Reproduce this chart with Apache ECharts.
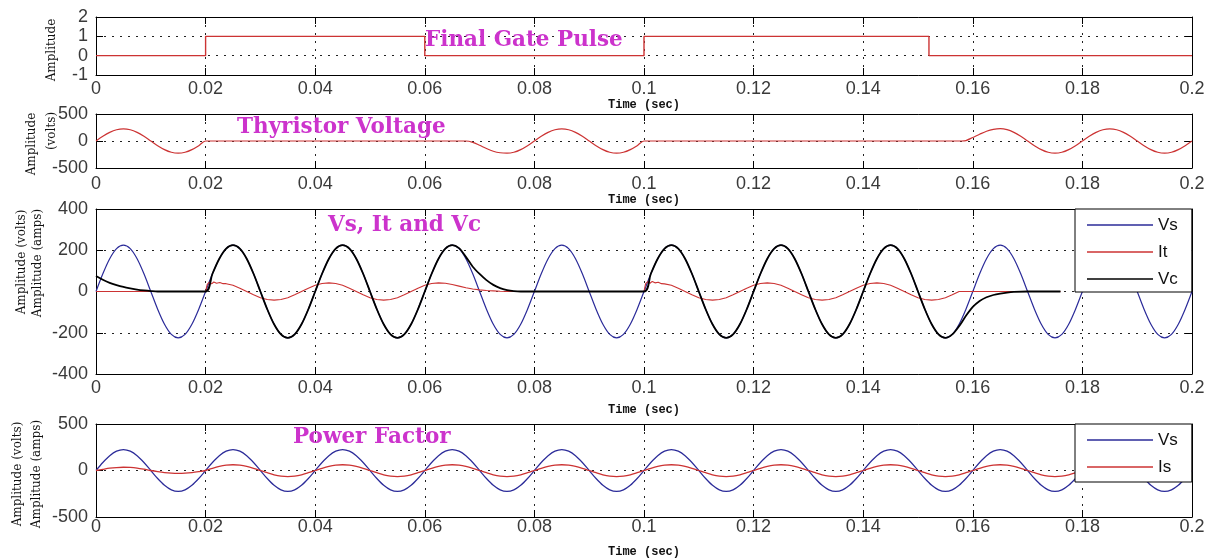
<!DOCTYPE html>
<html>
<head>
<meta charset="utf-8">
<title>Thyristor waveforms</title>
<script src="https://cdn.jsdelivr.net/npm/echarts@6.0.0/dist/echarts.min.js"></script>
<style>
html,body{margin:0;padding:0;background:#fff;}
#chart{width:1208px;height:559px;}
</style>
</head>
<body>
<div id="chart"></div>
<script>
// time in ms on the x axis, tick labels shown in seconds
var xTicks = ['0','0.02','0.04','0.06','0.08','0.1','0.12','0.14','0.16','0.18','0.2'];

// sample times for the full-length waveforms (ms)
var tFull = [
  0,1.25,2.5,3.75,5,6.25,7.5,8.75,10,11.25,12.5,13.75,15,16.25,17.5,18.75,
  20,21.25,22.5,23.75,25,26.25,27.5,28.75,30,31.25,32.5,33.75,35,36.25,37.5,38.75,
  40,41.25,42.5,43.75,45,46.25,47.5,48.75,50,51.25,52.5,53.75,55,56.25,57.5,58.75,
  60,61.25,62.5,63.75,65,66.25,67.5,68.75,70,71.25,72.5,73.75,75,76.25,77.5,78.75,
  80,81.25,82.5,83.75,85,86.25,87.5,88.75,90,91.25,92.5,93.75,95,96.25,97.5,98.75,
  100,101.25,102.5,103.75,105,106.25,107.5,108.75,110,111.25,112.5,113.75,115,116.25,117.5,118.75,
  120,121.25,122.5,123.75,125,126.25,127.5,128.75,130,131.25,132.5,133.75,135,136.25,137.5,138.75,
  140,141.25,142.5,143.75,145,146.25,147.5,148.75,150,151.25,152.5,153.75,155,156.25,157.5,158.75,
  160,161.25,162.5,163.75,165,166.25,167.5,168.75,170,171.25,172.5,173.75,175,176.25,177.5,178.75,
  180,181.25,182.5,183.75,185,186.25,187.5,188.75,190,191.25,192.5,193.75,195,196.25,197.5,198.75,
  200
];

// supply voltage Vs (volts)
var vsVals = [
  0,86,159,208,225,208,159,86,0,-86,-159,-208,-225,-208,-159,-86,
  0,86,159,208,225,208,159,86,0,-86,-159,-208,-225,-208,-159,-86,
  0,86,159,208,225,208,159,86,0,-86,-159,-208,-225,-208,-159,-86,
  0,86,159,208,225,208,159,86,0,-86,-159,-208,-225,-208,-159,-86,
  0,86,159,208,225,208,159,86,0,-86,-159,-208,-225,-208,-159,-86,
  0,86,159,208,225,208,159,86,0,-86,-159,-208,-225,-208,-159,-86,
  0,86,159,208,225,208,159,86,0,-86,-159,-208,-225,-208,-159,-86,
  0,86,159,208,225,208,159,86,0,-86,-159,-208,-225,-208,-159,-86,
  0,86,159,208,225,208,159,86,0,-86,-159,-208,-225,-208,-159,-86,
  0,86,159,208,225,208,159,86,0,-86,-159,-208,-225,-208,-159,-86,
  0
];

// source current Is (amps)
var isVals = [
  0,13,25,32,35,33,26,14,0,-12,-22,-28,-30,-28,-22,-12,
  0,24,44,57,62,57,44,24,0,-24,-46,-60,-65,-60,-46,-24,
  0,24,44,57,62,57,44,24,0,-24,-46,-60,-65,-60,-46,-24,
  0,24,44,57,62,57,44,24,0,-24,-46,-60,-65,-60,-46,-24,
  0,24,44,57,62,57,44,24,0,-24,-46,-60,-65,-60,-46,-24,
  0,24,44,57,62,57,44,24,0,-24,-46,-60,-65,-60,-46,-24,
  0,24,44,57,62,57,44,24,0,-24,-46,-60,-65,-60,-46,-24,
  0,24,44,57,62,57,44,24,0,-24,-46,-60,-65,-60,-46,-24,
  0,24,44,57,62,57,44,24,0,-24,-46,-60,-65,-60,-46,-24,
  0,24,44,57,62,57,44,24,0,-24,-46,-60,-65,-60,-46,-24,
  0
];

// final gate pulse [ms, amplitude]
var gate = [[0,0],[20,0],[20,1],[60,1],[60,0],[100,0],[100,1],[152,1],[152,0],[200,0]];

// thyristor voltage [ms, volts]
var vThy = [
  [0,0],[1.25,86],[2.5,159],[3.75,208],[5,225],[6.25,208],[7.5,159],[8.75,86],[10,0],
  [11.25,-86],[12.5,-159],[13.75,-208],[15,-225],[16.25,-208],[17.5,-159],[18.75,-86],[20,0],
  [67.5,0],[68.75,-25],[70,-80],[71.25,-140],[72.5,-190],[73.75,-218],[75,-225],[76.25,-208],
  [77.5,-159],[78.75,-86],[80,0],[81.25,86],[82.5,159],[83.75,208],[85,225],[86.25,208],
  [87.5,159],[88.75,86],[90,0],[91.25,-86],[92.5,-159],[93.75,-208],[95,-225],[96.25,-208],
  [97.5,-159],[98.75,-86],[100,0],
  [158,0],[158.75,8],[160,65],[161.25,125],[162.5,180],[163.75,215],[165,228],[166.25,210],
  [167.5,160],[168.75,86],[170,0],[171.25,-86],[172.5,-159],[173.75,-208],[175,-225],[176.25,-208],
  [177.5,-159],[178.75,-86],[180,0],[181.25,86],[182.5,159],[183.75,208],[185,225],[186.25,208],
  [187.5,159],[188.75,86],[190,0],[191.25,-86],[192.5,-159],[193.75,-208],[195,-225],[196.25,-208],
  [197.5,-159],[198.75,-86],[200,0]
];

// capacitor voltage Vc [ms, volts]
var vc = [
  [0,75],[1.25,57],[2.5,42],[3.75,31],[5,22],[6.25,15],[7.5,9],[8.75,5],[10,2],[11.25,0],[20,0],
  [21.25,86],[22.5,159],[23.75,208],[25,225],[26.25,208],[27.5,159],[28.75,86],[30,0],
  [31.25,-86],[32.5,-159],[33.75,-208],[35,-225],[36.25,-208],[37.5,-159],[38.75,-86],[40,0],
  [41.25,86],[42.5,159],[43.75,208],[45,225],[46.25,208],[47.5,159],[48.75,86],[50,0],
  [51.25,-86],[52.5,-159],[53.75,-208],[55,-225],[56.25,-208],[57.5,-159],[58.75,-86],[60,0],
  [61.25,86],[62.5,159],[63.75,208],[65,225],[66.25,210],[67.5,168],[68.75,120],[70,85],
  [71.25,55],[72.5,32],[73.75,16],[75,7],[76.25,2],[77.5,0],[100,0],
  [101.25,86],[102.5,159],[103.75,208],[105,225],[106.25,208],[107.5,159],[108.75,86],[110,0],
  [111.25,-86],[112.5,-159],[113.75,-208],[115,-225],[116.25,-208],[117.5,-159],[118.75,-86],[120,0],
  [121.25,86],[122.5,159],[123.75,208],[125,225],[126.25,208],[127.5,159],[128.75,86],[130,0],
  [131.25,-86],[132.5,-159],[133.75,-208],[135,-225],[136.25,-208],[137.5,-159],[138.75,-86],[140,0],
  [141.25,86],[142.5,159],[143.75,208],[145,225],[146.25,208],[147.5,159],[148.75,86],[150,0],
  [151.25,-86],[152.5,-159],[153.75,-208],[155,-225],[156.25,-208],[157.5,-168],[158.75,-118],
  [160,-75],[161.25,-46],[162.5,-28],[163.75,-17],[165,-10],[166.25,-5],[167.5,-2],[170,0],[176,0]
];

// thyristor current It [ms, amps]
var it = [
  [0,0],[20,0],[20.3,34],[20.7,45],[21.1,37],[21.5,46],[22,40],[22.6,44],[23.2,38],[23.75,38],
  [25,30],[26.25,16],[27.5,0],[28.75,-16],[30,-30],[31.25,-39],[32.5,-42],[33.75,-39],[35,-30],
  [36.25,-16],[37.5,0],[38.75,16],[40,30],[41.25,39],[42.5,42],[43.75,39],[45,30],[46.25,16],
  [47.5,0],[48.75,-16],[50,-30],[51.25,-39],[52.5,-42],[53.75,-39],[55,-30],[56.25,-16],[57.5,0],
  [58.75,16],[60,30],[61.25,39],[62.5,42],[63.75,40],[65,34],[66.25,26],[67.5,18],[68.75,12],
  [70,8],[71.25,5],[72.5,3],[73.75,1],[75,0],[100,0],
  [100.3,38],[100.7,48],[101.1,40],[101.5,49],[102,42],[102.6,45],[103.2,38],[103.75,37],
  [105,30],[106.25,16],[107.5,0],[108.75,-16],[110,-30],[111.25,-39],[112.5,-42],[113.75,-39],
  [115,-30],[116.25,-16],[117.5,0],[118.75,16],[120,30],[121.25,39],[122.5,42],[123.75,39],
  [125,30],[126.25,16],[127.5,0],[128.75,-16],[130,-30],[131.25,-39],[132.5,-42],[133.75,-39],
  [135,-30],[136.25,-16],[137.5,0],[138.75,16],[140,30],[141.25,39],[142.5,42],[143.75,39],
  [145,30],[146.25,16],[147.5,0],[148.75,-16],[150,-30],[151.25,-39],[152.5,-42],[153.75,-39],
  [155,-30],[156.25,-16],[157.5,0],[176,0]
];

// y ranges per panel: [min, max, step]
var yRange = [[-1,2,1],[-500,500,500],[-400,400,200],[-500,500,500]];

var red = '#cc3333', blue = '#2b2b99', black = '#000';

var vsData = tFull.map(function(t,i){ return [t, vsVals[i]]; });
var isData = tFull.map(function(t,i){ return [t, isVals[i]]; });

var panels = [
  {top:17,  height:58,  labelMargin:4.6, nameGap:21},
  {top:114, height:54,  labelMargin:6.6, nameGap:23},
  {top:209, height:165, labelMargin:5.3, nameGap:30},
  {top:424, height:93,  labelMargin:1.2, nameGap:29}
];

var grids = [], xAxes = [], yAxes = [];
var tickFont = {fontFamily:'Liberation Sans', fontSize:18, color:'#3a3a3a'};
var dotted = {color:'#222', type:[2,6], width:1};
var edge = {show:true, onZero:false, lineStyle:{color:'#000', width:1}};
var tick = {show:true, inside:true, length:7, lineStyle:{color:'#000', width:1}};

for (var i = 0; i < panels.length; i++) {
  var p = panels[i];
  grids.push({left:96, width:1096, top:p.top, height:p.height, containLabel:false, outerBoundsMode:'none'});
  xAxes.push({
    gridIndex:i, type:'value', min:0, max:200, interval:20, position:'bottom',
    axisLine:edge, axisTick:tick,
    axisLabel:Object.assign({margin:p.labelMargin, showMinLabel:true, showMaxLabel:true,
      formatter:function(v){ return xTicks[Math.round(v/20)]; }}, tickFont),
    splitLine:{show:true, lineStyle:dotted},
    name:'Time (sec)', nameLocation:'middle', nameGap:p.nameGap,
    nameTextStyle:{fontFamily:'Liberation Mono', fontWeight:'bold', fontSize:12, color:'#111'}
  });
  xAxes.push({
    gridIndex:i, type:'value', min:0, max:200, interval:20, position:'top',
    axisLine:edge, axisTick:tick, axisLabel:{show:false}, splitLine:{show:false}
  });
  var r = yRange[i];
  yAxes.push({
    gridIndex:i, type:'value', min:r[0], max:r[1], interval:r[2], position:'left',
    axisLine:edge, axisTick:tick,
    axisLabel:Object.assign({margin:8, showMinLabel:true, showMaxLabel:true}, tickFont),
    splitLine:{show:true, lineStyle:dotted}
  });
  yAxes.push({
    gridIndex:i, type:'value', min:r[0], max:r[1], interval:r[2], position:'right',
    axisLine:edge, axisTick:tick, axisLabel:{show:false}, splitLine:{show:false}
  });
}

function line(name, panel, data, color, width, smooth) {
  return {
    name:name, type:'line', xAxisIndex:panel*2, yAxisIndex:panel*2, data:data,
    symbol:'none', smooth:smooth || false, color:color,
    lineStyle:{color:color, width:width}, silent:true
  };
}

// magenta plot titles and rotated y labels
var titles = [
  [425, 40, 'Final Gate Pulse'],
  [237, 127, 'Thyristor Voltage'],
  [328, 225, 'Vs, It and Vc'],
  [293, 437, 'Power Factor']
];
var yNames = [
  [52, 50, 'Amplitude'],
  [32, 144, 'Amplitude'],
  [52, 131, '(volts)'],
  [22, 262, 'Amplitude (volts)'],
  [38, 263, 'Amplitude (amps)'],
  [18, 474, 'Amplitude (volts)'],
  [37, 474, 'Amplitude (amps)']
];
var graphics = [];
titles.forEach(function(t){
  graphics.push({type:'text', x:t[0], y:t[1], z:10, style:{
    text:t[2], fill:'#cc33cc', font:'bold 21.5px "DejaVu Serif"', align:'left', verticalAlign:'middle'}});
});
yNames.forEach(function(t){
  graphics.push({type:'text', x:t[0], y:t[1], rotation:Math.PI/2, z:10, style:{
    text:t[2], fill:'#111', font:'12px "DejaVu Serif"', align:'center', verticalAlign:'middle'}});
});

// legend keys drawn as thin bars in the series colour
var legendBase = {
  orient:'vertical', left:1075, backgroundColor:'#fff', borderColor:'#000', borderWidth:1,
  icon:'rect', itemWidth:66, itemHeight:1.5, itemGap:9, selectedMode:false,
  textStyle:{fontFamily:'Liberation Sans', fontSize:17, lineHeight:18, color:'#111'}
};

var myChart = echarts.init(document.getElementById('chart'), null, {renderer:'canvas'});
var option = {
  animation:false,
  backgroundColor:'#fff',
  grid:grids,
  xAxis:xAxes,
  yAxis:yAxes,
  legend:[
    Object.assign({}, legendBase, {top:209, padding:[7,14,4,12], data:['Vs','It','Vc']}),
    Object.assign({}, legendBase, {top:424, padding:[7,14,6,12], data:['Vs','Is']})
  ],
  graphic:graphics,
  series:[
    line('Gate', 0, gate, red, 1.4),
    line('Vthy', 1, vThy, red, 1.2, 0.3),
    line('Vs', 2, vsData, blue, 1.2, 0.3),
    line('It', 2, it, red, 1.1),
    line('Vc', 2, vc, black, 1.8, 0.3),
    line('Vs', 3, vsData, blue, 1.2, 0.3),
    line('Is', 3, isData, red, 1.3, 0.3)
  ]
};
myChart.setOption(option);
</script>
</body>
</html>
